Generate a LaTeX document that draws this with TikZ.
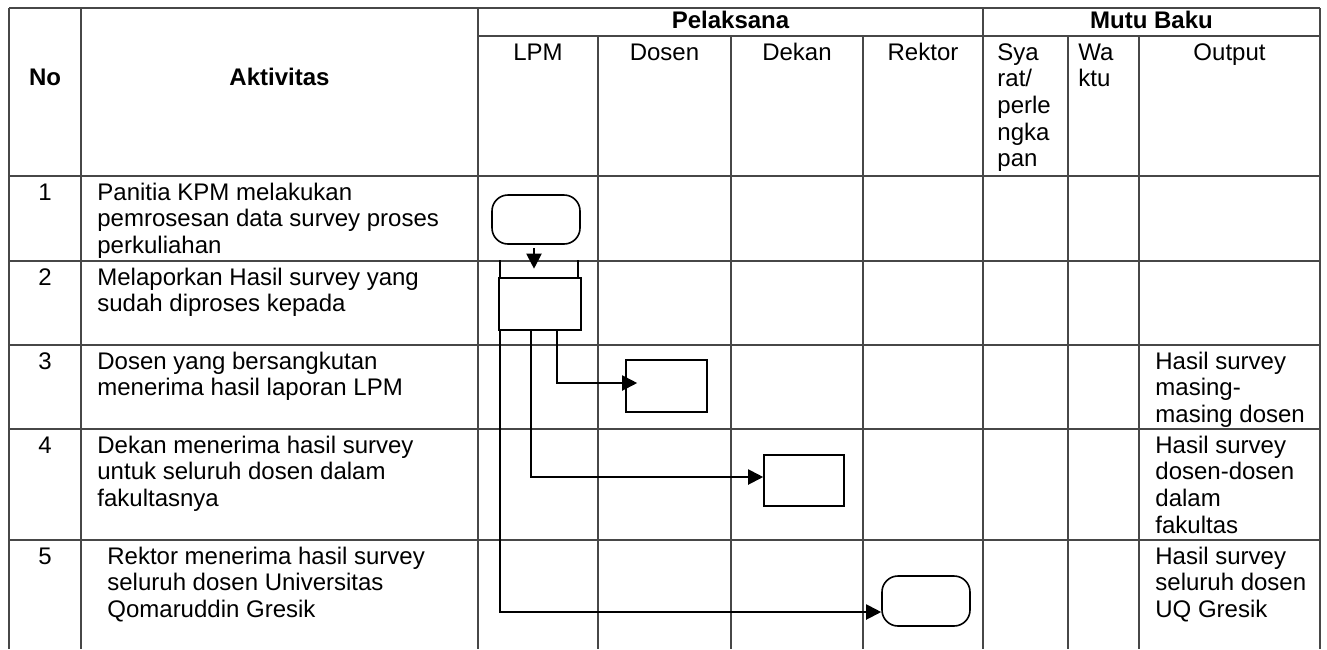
\documentclass[tikz,border=0pt]{standalone}
\usepackage{fontspec}
\setmainfont{Liberation Sans}
\usepackage{tikz}
\usetikzlibrary{
  arrows.meta
}
% isi sel beberapa baris, garis dasar = baris pertama
\newcommand{\isisel}[1]{\begin{tabular}[t]{@{}l@{}}#1\end{tabular}}
\tikzset{
  garis tabel/.style={
    line width=0.65pt,
    draw=black!72
  },
  teks/.style={
    font=\fontsize{12pt}{13.35pt}\selectfont,
    inner sep=0pt,
    anchor=base west
  },
  judul/.style={
    teks,
    font=\fontsize{12pt}{13.35pt}\selectfont\bfseries,
    anchor=base
  },
  terminal/.style={
    draw,
    line width=0.8pt,
    rounded corners=8pt,
    minimum width=44pt,
    minimum height=24.5pt
  },
  proses/.style={
    draw,
    line width=0.8pt,
    minimum width=40.5pt,
    minimum height=26pt
  },
  alur/.style={
    line width=1pt,
    -{Triangle[length=7.5pt,width=7.5pt]}
  }
}

\begin{document}
\begin{tikzpicture}[x=0.5pt,y=-0.5pt]

    \useasboundingbox (0,0) rectangle (1327,649);

    % ---------- garis tabel ----------
    \foreach \y in {8,176,261,345,429,540}
      \draw[garis tabel] (9,\y) -- (1320,\y);
    \draw[garis tabel] (478,36) -- (1320,36);
    \foreach \x in {9,81,478,983,1320}
      \draw[garis tabel] (\x,8) -- (\x,649);
    \foreach \x in {598,731,863,1068,1139}
      \draw[garis tabel] (\x,36) -- (\x,649);

    % ---------- kepala tabel ----------
    \node[judul] (hNo) at (45,85) {No};
    \node[judul] (hAkt) at (279.5,85) {Aktivitas};
    \node[judul] (hPel) at (730.5,28) {Pelaksana};
    \node[judul] (hMutu) at (1151.5,28) {Mutu Baku};

    \node[teks,anchor=base] (hLpm) at (538,60) {LPM};
    \node[teks,anchor=base] (hDosen) at (664.5,60) {Dosen};
    \node[teks,anchor=base] (hDekan) at (797,60) {Dekan};
    \node[teks,anchor=base] (hRektor) at (923,60) {Rektor};
    \node[teks] (hSyarat) at (997,60)
      {\isisel{Sya\\rat/\\perle\\ngka\\pan}};
    \node[teks] (hWaktu) at (1078,60) {\isisel{Wa\\ktu}};
    \node[teks,anchor=base] (hOutput) at (1229.5,60) {Output};

    % ---------- nomor ----------
    \node[teks,anchor=base] (no1) at (45,200) {1};
    \node[teks,anchor=base] (no2) at (45,285) {2};
    \node[teks,anchor=base] (no3) at (45,369) {3};
    \node[teks,anchor=base] (no4) at (45,453) {4};
    \node[teks,anchor=base] (no5) at (45,564) {5};

    % ---------- aktivitas ----------
    \node[teks] (akt1) at (97,200)
      {\isisel{Panitia KPM melakukan\\pemrosesan data survey proses\\perkuliahan}};
    \node[teks] (akt2) at (97,285)
      {\isisel{Melaporkan Hasil survey yang\\sudah diproses kepada}};
    \node[teks] (akt3) at (97,369)
      {\isisel{Dosen yang bersangkutan\\menerima hasil laporan LPM}};
    \node[teks] (akt4) at (97,453)
      {\isisel{Dekan menerima hasil survey\\untuk seluruh dosen dalam\\fakultasnya}};
    \node[teks] (akt5) at (107,564)
      {\isisel{Rektor menerima hasil survey\\seluruh dosen Universitas\\Qomaruddin Gresik}};

    % ---------- output ----------
    \node[teks] (out3) at (1155,369)
      {\isisel{Hasil survey\\masing-\\masing dosen}};
    \node[teks] (out4) at (1155,453)
      {\isisel{Hasil survey\\dosen-dosen\\dalam\\fakultas}};
    \node[teks] (out5) at (1155,564)
      {\isisel{Hasil survey\\seluruh dosen\\UQ Gresik}};

    % ---------- bagan alir ----------
    \node[terminal] (mulai) at (536,219.5) {};
    \node[proses,line width=1.3pt,minimum width=41pt] (lapor) at (540,304) {};
    \node[proses] (dosen) at (666.5,386) {};
    \node[proses,minimum width=40pt,minimum height=25.5pt] (dekan) at (804,480.5) {};
    \node[terminal,minimum height=25pt] (selesai) at (926,601) {};

    \draw[alur,shorten <=1.5pt,shorten >=4pt]
      ([xshift=-1pt]mulai.south) -- ([xshift=-1pt]mulai.south |- lapor.north);
    \draw[line width=1pt] ([xshift=1pt]lapor.north west) -- ++(0,-17);
    \draw[line width=1pt] ([xshift=-2pt]lapor.north east) -- ++(0,-17);

    \draw[alur,shorten >=-6pt]
      ([xshift=29.5pt]lapor.south west) |- ([yshift=1.5pt]dosen.west);
    \draw[alur]
      ([xshift=16.5pt]lapor.south west) |- ([yshift=1.75pt]dekan.west);
    \draw[alur]
      ([xshift=1pt]lapor.south west) |- ([yshift=-5.5pt]selesai.west);

\end{tikzpicture}
\end{document}
